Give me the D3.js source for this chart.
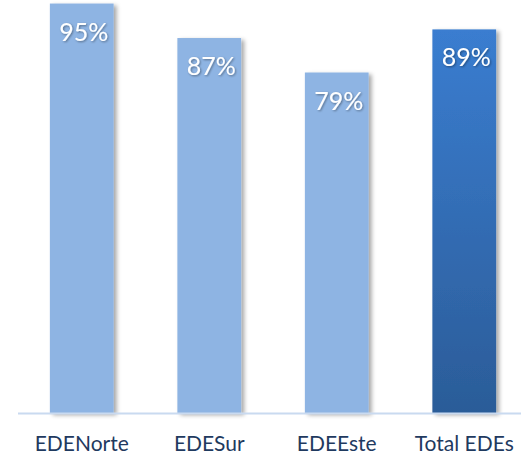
<!DOCTYPE html>
<html>
<head>
<meta charset="utf-8">
<script src="https://cdn.jsdelivr.net/npm/d3@7"></script>
<style>
  html, body { margin: 0; padding: 0; background: #fff; }
  svg { display: block; }
</style>
</head>
<body>
<svg id="chart" width="521" height="456"></svg>
<script>
const categories = ["EDENorte", "EDESur", "EDEEste", "Total EDEs"];
const values = [95, 87, 79, 89];
const value_labels = ["95%", "87%", "79%", "89%"];

const width = 521;
const height = 456;
const baseline = 413;

const svg = d3.select("#chart");
const defs = svg.append("defs");

// shadow behind bars
const shadow = defs.append("filter")
    .attr("id", "barShadow")
    .attr("x", "-20%").attr("y", "-10%")
    .attr("width", "150%").attr("height", "130%");
shadow.append("feDropShadow")
    .attr("dx", 3).attr("dy", 2)
    .attr("stdDeviation", 2)
    .attr("flood-color", "#000")
    .attr("flood-opacity", 0.35);

const textShadow = defs.append("filter").attr("id", "textShadow");
textShadow.append("feDropShadow")
    .attr("dx", 1).attr("dy", 1)
    .attr("stdDeviation", 0.8)
    .attr("flood-color", "#000")
    .attr("flood-opacity", 0.4);

const grad = defs.append("linearGradient")
    .attr("id", "totalGrad")
    .attr("x1", 0).attr("y1", 0).attr("x2", 0).attr("y2", 1);
grad.append("stop").attr("offset", "0%").attr("stop-color", "#3a7dd0");
grad.append("stop").attr("offset", "100%").attr("stop-color", "#2b5c98");

const xScale = d3.scaleBand()
    .domain(categories)
    .range([18, 528])
    .paddingInner(0.5)
    .paddingOuter(0.25);

const yScale = d3.scaleLinear()
    .domain([0, 100])
    .range([baseline, baseline - 431]);

// bars
svg.append("g")
    .selectAll("rect")
    .data(values)
    .enter()
    .append("rect")
    .attr("x", (d, i) => xScale(categories[i]))
    .attr("y", d => yScale(d))
    .attr("width", xScale.bandwidth())
    .attr("height", d => baseline - yScale(d))
    .attr("fill", (d, i) => i === categories.length - 1 ? "url(#totalGrad)" : "#8eb4e3")
    .attr("filter", "url(#barShadow)");

// axis line + category labels
const xAxis = svg.append("g")
    .attr("transform", `translate(0, ${baseline})`)
    .call(d3.axisBottom(xScale).tickSize(0).tickPadding(23));
xAxis.select(".domain")
    .attr("d", `M18,0.5H${width}`)
    .attr("stroke", "#c9daf0")
    .attr("stroke-width", 2);
xAxis.selectAll(".tick text")
    .attr("font-family", "Lato")
    .attr("font-size", 21)
    .attr("fill", "#1f3a5f");

// value labels
svg.append("g")
    .selectAll("text")
    .data(values)
    .enter()
    .append("text")
    .attr("x", (d, i) => xScale(categories[i]) + xScale.bandwidth() / 2 + 2)
    .attr("y", d => yScale(d) + 37)
    .attr("text-anchor", "middle")
    .attr("font-family", "Lato")
    .attr("font-size", 25)
    .attr("fill", "#fff")
    .attr("filter", "url(#textShadow)")
    .text((d, i) => value_labels[i]);
</script>
</body>
</html>
